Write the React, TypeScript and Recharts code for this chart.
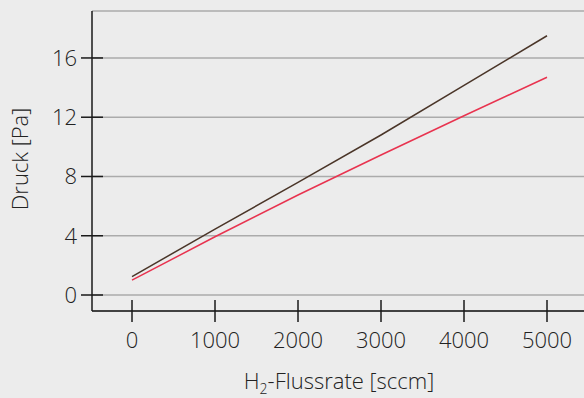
import React from 'react';
import { LineChart, Line, XAxis, YAxis, CartesianGrid, Label } from 'recharts';

const flowRates = [0, 1000, 2000, 3000, 4000, 5000];
const pressureDark = [1.24, 4.45, 7.6, 10.8, 14.15, 17.5];
const pressureRed = [1.0, 3.93, 6.75, 9.45, 12.1, 14.7];
const xTicks = [0, 1000, 2000, 3000, 4000, 5000];
const yTicks = [0, 4, 8, 12, 16];
const xDomain = [-482, 5518];
const yDomain = [-1.08, 19.17];

const data = flowRates.map((f, i) => ({ flow: f, dark: pressureDark[i], red: pressureRed[i] }));

const FONT = '"Open Sans", "Noto Sans", sans-serif';
const TEXT = '#222222';
const AXIS = '#1a1a1a';

const XTick = (props: any) => {
  const { x, y, payload } = props;
  return (
    <g>
      <line x1={x} x2={x} y1={y - 22} y2={y} stroke={AXIS} strokeWidth={1.5} />
      <text x={x} y={y + 26} textAnchor="middle" fill={TEXT} fontSize={22} fontWeight={300} fontFamily={FONT}>
        {payload.value}
      </text>
    </g>
  );
};

const YTick = (props: any) => {
  const { x, y, payload } = props;
  return (
    <g>
      <line x1={x} x2={x + 22} y1={y} y2={y} stroke={AXIS} strokeWidth={1.5} />
      <text x={x - 4} y={y + 8} textAnchor="end" fill={TEXT} fontSize={22} fontWeight={300} fontFamily={FONT}>
        {payload.value}
      </text>
    </g>
  );
};

export default function App() {
  return (
    <div
      style={{
        position: 'absolute',
        left: 0,
        top: 0,
        width: 584,
        height: 398,
        overflow: 'hidden',
        background: '#ececec',
      }}
    >
      <LineChart
        width={640}
        height={398}
        data={data}
        margin={{ top: 11, right: 50, bottom: 0, left: 0 }}
      >
        <CartesianGrid horizontal vertical={false} stroke="#ababab" strokeWidth={1.5} />
        <XAxis
          dataKey="flow"
          type="number"
          domain={xDomain}
          ticks={xTicks}
          allowDataOverflow
          height={87}
          tickSize={11}
          tickMargin={0}
          tickLine={false}
          tick={<XTick />}
          axisLine={{ stroke: AXIS, strokeWidth: 1.5 }}
          interval={0}
        >
          <Label
            content={(p: any) => {
              const vb = p.viewBox || { x: 92, y: 311 };
              return (
                <text
                  x={vb.x + 247}
                  y={vb.y + 78}
                  textAnchor="middle"
                  fill={TEXT}
                  fontSize={22}
                  fontWeight={300}
                  fontFamily={FONT}
                >
                  H
                  <tspan fontSize={14} dy={5}>2</tspan>
                  <tspan dy={-5}>-Flussrate [sccm]</tspan>
                </text>
              );
            }}
          />
        </XAxis>
        <XAxis
          xAxisId="top"
          orientation="top"
          type="number"
          domain={xDomain}
          allowDataOverflow
          height={0}
          tick={false}
          tickLine={false}
          axisLine={{ stroke: AXIS, strokeWidth: 1.5 }}
        />
        <YAxis
          type="number"
          domain={yDomain}
          ticks={yTicks}
          allowDataOverflow
          width={92}
          tickSize={11}
          tickMargin={0}
          tickLine={false}
          tick={<YTick />}
          axisLine={{ stroke: AXIS, strokeWidth: 1.5 }}
          interval={0}
        >
          <Label
            content={() => (
              <text
                x={28}
                y={159}
                transform="rotate(-90, 28, 159)"
                textAnchor="middle"
                fill={TEXT}
                fontSize={22}
                fontWeight={300}
                fontFamily={FONT}
              >
                Druck [Pa]
              </text>
            )}
          />
        </YAxis>
        <Line
          type="linear"
          dataKey="dark"
          stroke="#4a3528"
          strokeWidth={1.5}
          dot={false}
          isAnimationActive={false}
        />
        <Line
          type="linear"
          dataKey="red"
          stroke="#e8334f"
          strokeWidth={1.5}
          dot={false}
          isAnimationActive={false}
        />
      </LineChart>
    </div>
  );
}
